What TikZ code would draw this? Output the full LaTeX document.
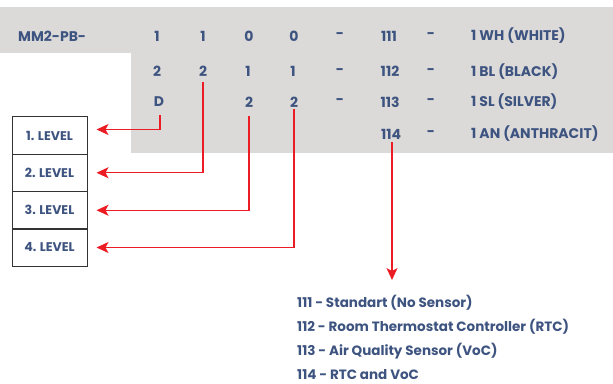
\documentclass[tikz,border=0pt]{standalone}
\usepackage{fontspec}
\setmainfont{Poppins}
\usetikzlibrary{arrows.meta}
\definecolor{txt}{HTML}{3E5480}
\definecolor{gry}{HTML}{DCDAD9}
\definecolor{red1}{HTML}{EC1C24}
\begin{document}
\begin{tikzpicture}[x=1pt,y=-1pt,
  t/.style={text=txt,font=\bfseries\fontsize{14}{16}\selectfont,inner sep=0pt},
  d/.style={text=txt,font=\bfseries\fontsize{13.5}{15}\selectfont,inner sep=0pt,anchor=west},
  lvl/.style={draw=black!80,line width=1pt,minimum width=75pt,minimum height=37.5pt,inner sep=0pt,
    text=txt,font=\bfseries\fontsize{12.6}{15}\selectfont},
  arr/.style={draw=red1,line width=1.3pt,-{Stealth[length=12pt,width=11pt,inset=3pt]}}]
\useasboundingbox (0,0) rectangle (613,383);
\fill[gry] (0,7) rectangle (613,53);
\fill[gry] (131,53) rectangle (613,153);
% row 1
\node[t,anchor=west] (mm) at (18,36) {MM2-PB-};
\node[t] (a1) at (157,36) {1};
\node[t] (b1) at (203,36) {1};
\node[t] (c1) at (249,36) {0};
\node[t] (e1) at (294,36) {0};
\node[t] (f1) at (340,36) {-};
\node[t] (g1) at (389,36) {111};
\node[t] (h1) at (431,36) {-};
\node[t,anchor=west] (i1) at (471,36) {1 WH (WHITE)};
% row 2
\node[t] (a2) at (157,71.5) {2};
\node[t] (b2) at (203,71.5) {2};
\node[t] (c2) at (248,71.5) {1};
\node[t] (e2) at (293,71.5) {1};
\node[t] (f2) at (340,71.5) {-};
\node[t] (g2) at (390,71.5) {112};
\node[t] (h2) at (431,71.5) {-};
\node[t,anchor=west] (i2) at (471,71.5) {1 BL (BLACK)};
% row 3
\node[t] (a3) at (159,102) {D};
\node[t] (c3) at (249,102) {2};
\node[t] (e3) at (294,102) {2};
\node[t] (f3) at (340,102) {-};
\node[t] (g3) at (390,102) {113};
\node[t] (h3) at (431,102) {-};
\node[t,anchor=west] (i3) at (471,102) {1 SL (SILVER)};
% row 4
\node[t] (g4) at (391,134) {114};
\node[t] (h4) at (431,134) {-};
\node[t,anchor=west] (i4) at (471,134) {1 AN (ANTHRACIT)};
% levels
\node[lvl] (l1) at (49.5,135.5) {1. LEVEL};
\node[lvl] (l2) at (49.5,172.75) {2. LEVEL};
\node[lvl] (l3) at (49.5,210.25) {3. LEVEL};
\node[lvl] (l4) at (49.5,247.5) {4. LEVEL};
% connectors
\draw[arr,shorten <=8pt,shorten >=9pt] (a3.south -| 160,0) |- ([yshift=6pt]l1.east);
\draw[arr,shorten <=5pt,shorten >=9pt] (b2.south) |- (l2.east);
\draw[arr,shorten <=9pt,shorten >=9pt] (c3.south) |- (l3.east);
\draw[arr,shorten <=2pt,shorten >=9pt] (e3.south) |- (l4.east);
\coordinate (tip) at (392,280);
\draw[arr,shorten <=3pt] (g4.south -| tip) -- (tip);
% description
\node[d] (s1) at (297,303) {111 - Standart (No Sensor)};
\node[d] (s2) at (297,327) {112 - Room Thermostat Controller (RTC)};
\node[d] (s3) at (297,351) {113 - Air Quality Sensor (VoC)};
\node[d] (s4) at (297,374.5) {114 - RTC and VoC};
\end{tikzpicture}
\end{document}
